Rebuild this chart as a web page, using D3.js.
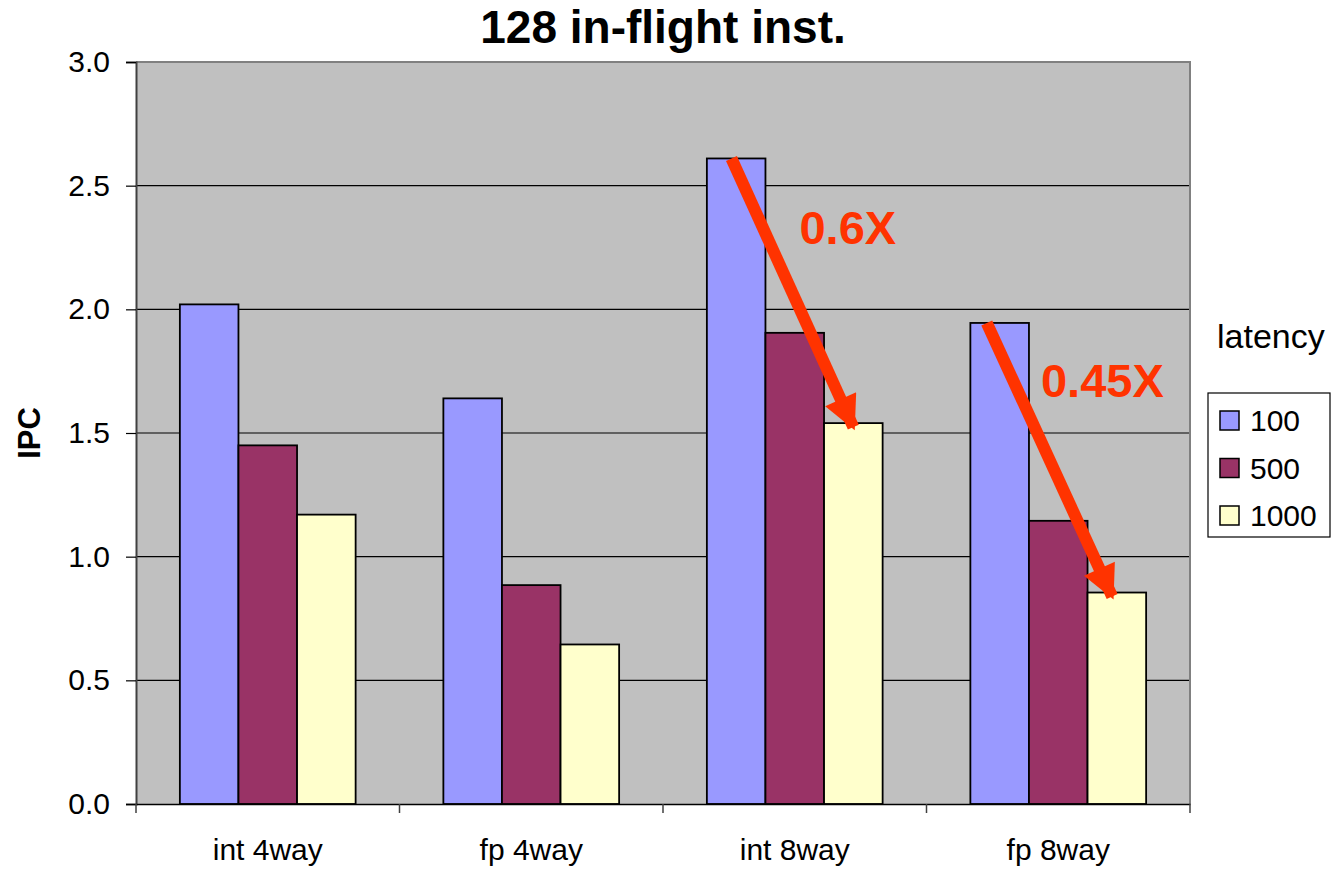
<!DOCTYPE html>
<html>
<head>
<meta charset="utf-8">
<script src="https://cdn.jsdelivr.net/npm/d3@7"></script>
<style>
  body { margin: 0; background: #fff; }
  text { font-family: "Liberation Sans", Arial, sans-serif; }
</style>
</head>
<body>
<div id="chart"></div>
<script>
// chart data
const categories = ['int 4way', 'fp 4way', 'int 8way', 'fp 8way']
const latencies = ['100', '500', '1000']
const ipc100 = [2.02, 1.64, 2.61, 1.945]
const ipc500 = [1.45, 0.885, 1.905, 1.145]
const ipc1000 = [1.17, 0.645, 1.54, 0.855]
const yTicks = [0, 0.5, 1.0, 1.5, 2.0, 2.5, 3.0]
// slowdown annotations: group, label
const arrowGroups = ['int 8way', 'fp 8way']
const arrowLabels = ['0.6X', '0.45X']

const colour = { '100': '#9999FF', '500': '#993366', '1000': '#FFFFCC' }
const series = { '100': ipc100, '500': ipc500, '1000': ipc1000 }

const width = 1334, height = 869
const margin = { top: 62, right: 144, bottom: 65, left: 136 }
const w = width - margin.left - margin.right
const h = height - margin.top - margin.bottom

const svg = d3.select('#chart').append('svg')
    .attr('width', width)
    .attr('height', height)

const g = svg.append('g').attr('transform', 'translate(' + margin.left + ',' + margin.top + ')')

const x0 = d3.scaleBand().domain(categories).range([0, w]).paddingInner(0.333).paddingOuter(0.1665)
const x1 = d3.scaleBand().domain(latencies).range([0, x0.bandwidth()])
const y = d3.scaleLinear().domain([0, 3]).range([h, 0])
const xGroup = d3.scaleBand().domain(categories).range([0, w])

// plot background
g.append('rect')
    .attr('width', w).attr('height', h)
    .attr('fill', '#C0C0C0')

// gridlines
g.selectAll('.grid').data(yTicks.slice(1, -1))
    .enter().append('line')
    .attr('x1', 0).attr('x2', w)
    .attr('y1', d => y(d)).attr('y2', d => y(d))
    .attr('stroke', '#000').attr('stroke-width', 1.2)

// border top/right
g.append('path')
    .attr('d', 'M0,' + y(3) + 'H' + w + 'V' + h)
    .attr('fill', 'none').attr('stroke', '#808080').attr('stroke-width', 2)

// bars
const rows = []
categories.forEach((c, i) => latencies.forEach(l => rows.push({ cat: c, lat: l, v: series[l][i] })))

g.selectAll('.bar').data(rows)
    .enter().append('rect')
    .attr('x', d => x0(d.cat) + x1(d.lat))
    .attr('y', d => y(d.v))
    .attr('width', x1.bandwidth())
    .attr('height', d => h - y(d.v))
    .attr('fill', d => colour[d.lat])
    .attr('stroke', '#000').attr('stroke-width', 1.8)

// y axis
const yAxis = g.append('g')
    .call(d3.axisLeft(y).tickValues(yTicks).tickFormat(d3.format('.1f')).tickSize(10).tickPadding(16))
yAxis.select('.domain').attr('stroke', '#404040').attr('stroke-width', 2)
yAxis.selectAll('.tick line').attr('stroke', '#000').attr('stroke-width', 1.2)
yAxis.selectAll('text').attr('font-size', 30).attr('fill', '#000')

// x axis
const xAxis = g.append('g').attr('transform', 'translate(0,' + h + ')')
    .call(d3.axisBottom(xGroup).tickSize(0).tickPadding(35))
xAxis.select('.domain').attr('stroke', '#000').attr('stroke-width', 1.5)
xAxis.selectAll('text').attr('font-size', 30).attr('fill', '#000')
xAxis.selectAll('.sep').data(d3.range(categories.length + 1))
    .enter().append('line').attr('class', 'sep')
    .attr('x1', i => i * xGroup.step()).attr('x2', i => i * xGroup.step())
    .attr('y1', 0).attr('y2', 9)
    .attr('stroke', '#404040').attr('stroke-width', 1.5)

// title
svg.append('text')
    .attr('x', margin.left + w / 2).attr('y', 43)
    .attr('text-anchor', 'middle')
    .attr('font-size', 46).attr('font-weight', 'bold')
    .text('128 in-flight inst.')

// y label
svg.append('text')
    .attr('transform', 'translate(40,' + (margin.top + y(1.5)) + ') rotate(-90)')
    .attr('text-anchor', 'middle')
    .attr('font-size', 31).attr('font-weight', 'bold')
    .text('IPC')

// arrows
const defs = svg.append('defs')
defs.append('marker')
    .attr('id', 'head')
    .attr('viewBox', '0 0 10 10')
    .attr('refX', 9).attr('refY', 5)
    .attr('markerUnits', 'userSpaceOnUse')
    .attr('markerWidth', 36).attr('markerHeight', 34)
    .attr('orient', 'auto')
    .append('path').attr('d', 'M0,0L10,5L0,10Z').attr('fill', '#FF3300')

arrowGroups.forEach((c, k) => {
    const i = categories.indexOf(c)
    const xs = x0(c) + x1('100') + x1.bandwidth() * (k === 0 ? 0.42 : 0.28)
    const ys = y(ipc100[i])
    const xe = x0(c) + x1('1000') + x1.bandwidth() * (k === 0 ? 0.5 : 0.42)
    const ye = y(ipc1000[i]) + 4
    g.append('line')
        .attr('x1', xs).attr('y1', ys).attr('x2', xe).attr('y2', ye)
        .attr('stroke', '#FF3300').attr('stroke-width', 12)
        .attr('marker-end', 'url(#head)')
    g.append('text')
        .attr('x', x0(c) + x1('500') + (k === 0 ? 34 : 12))
        .attr('y', y(ipc100[i]) + (k === 0 ? 86 : 74))
        .attr('font-size', 47).attr('font-weight', 'bold')
        .attr('fill', '#FF3300')
        .text(arrowLabels[k])
})

// legend
svg.append('text')
    .attr('x', 1217).attr('y', 348)
    .attr('font-size', 34)
    .text('latency')

const legend = svg.append('g').attr('transform', 'translate(1208,393)')
legend.append('rect')
    .attr('width', 122).attr('height', 144)
    .attr('fill', '#fff').attr('stroke', '#000').attr('stroke-width', 1.2)
const item = legend.selectAll('.item').data(latencies)
    .enter().append('g')
    .attr('transform', (d, i) => 'translate(12,' + (27 + i * 47.5) + ')')
item.append('rect')
    .attr('x', 0).attr('y', -9).attr('width', 19).attr('height', 19)
    .attr('fill', d => colour[d]).attr('stroke', '#000').attr('stroke-width', 1.5)
item.append('text')
    .attr('x', 30).attr('y', 11)
    .attr('font-size', 30)
    .text(d => d)
</script>
</body>
</html>
